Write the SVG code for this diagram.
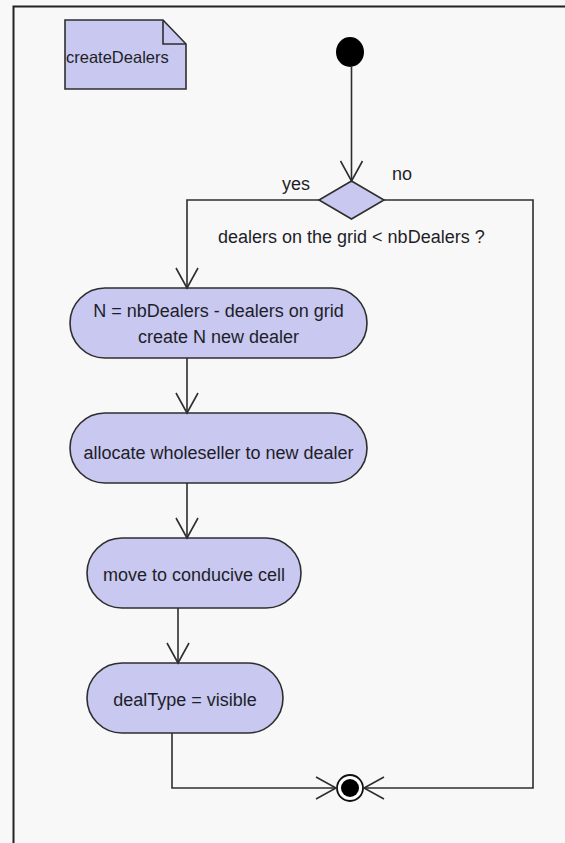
<svg xmlns="http://www.w3.org/2000/svg" width="565" height="843" viewBox="0 0 565 843">
  <style>
    .shape { fill: #c8c8f0; stroke: #2e2e2e; stroke-width: 1.6; }
    .edge { fill: none; stroke: #2e2e2e; stroke-width: 1.6; }
    .lbl { font-family: "Liberation Sans", Arial, sans-serif; font-size: 18px; fill: #1e1e28; }
    .mid { text-anchor: middle; }
  </style>
  <defs>
    <marker id="open" viewBox="-22 -12 24 24" refX="0" refY="0" markerWidth="24" markerHeight="24" markerUnits="userSpaceOnUse" orient="auto">
      <path d="M-20,-11 L0,0 L-20,11" fill="none" stroke="#2e2e2e" stroke-width="1.6"/>
    </marker>
  </defs>

  <rect width="565" height="843" fill="#f8f8f8"/>
  <!-- frame -->
  <path d="M13.5,843 V6.5 H565" fill="none" stroke="#222" stroke-width="2"/>

  <g id="note">
    <path class="shape" d="M65,20 H163 L186,44 V89 H65 Z"/>
    <path class="edge" d="M163,20 V44 H186"/>
    <text class="lbl" x="66" y="63" style="font-size:16.5px">createDealers</text>
  </g>

  <g id="start">
    <ellipse cx="350" cy="52" rx="14" ry="15" fill="#000"/>
  </g>

  <g id="decision">
    <path class="shape" d="M351.5,181 L384,200 L351.5,219 L319,200 Z"/>
    <text class="lbl" x="218" y="243">dealers on the grid &lt; nbDealers ?</text>
  </g>

  <g id="act1">
    <rect class="shape" x="70" y="288" width="297" height="70" rx="35"/>
    <text class="lbl mid" x="218.5" y="317">N = nbDealers - dealers on grid</text>
    <text class="lbl mid" x="218.5" y="343">create N new dealer</text>
  </g>

  <g id="act2">
    <rect class="shape" x="70" y="413" width="297" height="70" rx="35"/>
    <text class="lbl mid" x="218.5" y="459">allocate wholeseller to new dealer</text>
  </g>

  <g id="act3">
    <rect class="shape" x="87" y="538" width="214" height="70" rx="35"/>
    <text class="lbl mid" x="194" y="581">move to conducive cell</text>
  </g>

  <g id="act4">
    <rect class="shape" x="87" y="663" width="196" height="70" rx="35"/>
    <text class="lbl mid" x="185" y="706">dealType = visible</text>
  </g>

  <g id="end">
    <circle cx="350" cy="788" r="13" fill="#fff" stroke="#111" stroke-width="1.8"/>
    <circle cx="350" cy="788" r="9" fill="#000"/>
  </g>

  <g id="connectors">
    <path class="edge" d="M351.5,67 V181" marker-end="url(#open)"/>
    <path class="edge" d="M319,200 H187 V288" marker-end="url(#open)"/>
    <text class="lbl" x="282" y="190">yes</text>
    <path class="edge" d="M384,200 H533 V788 H364" marker-end="url(#open)"/>
    <text class="lbl" x="392" y="180">no</text>
    <path class="edge" d="M187,358 V413" marker-end="url(#open)"/>
    <path class="edge" d="M187,483 V538" marker-end="url(#open)"/>
    <path class="edge" d="M178,608 V663" marker-end="url(#open)"/>
    <path class="edge" d="M172,733 V788 H336" marker-end="url(#open)"/>
  </g>
</svg>
